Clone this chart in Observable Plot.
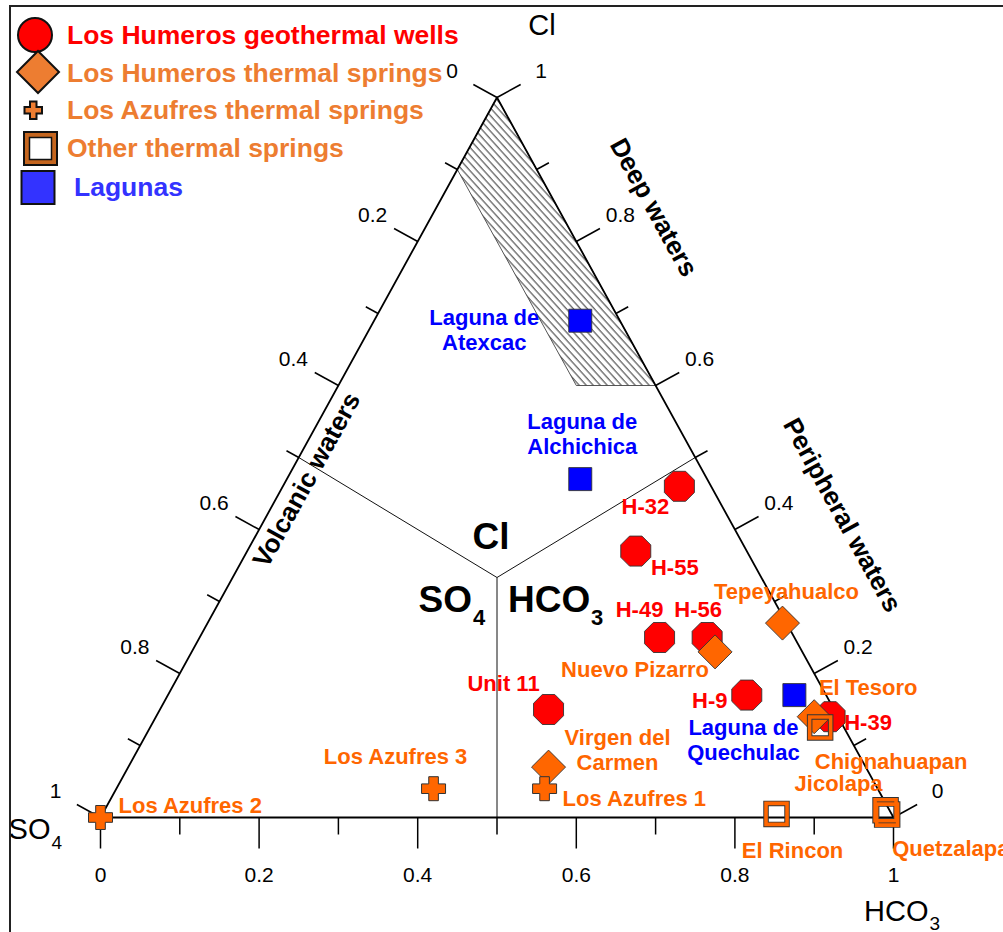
<!DOCTYPE html>
<html><head><meta charset="utf-8">
<script src="https://cdn.jsdelivr.net/npm/d3@7"></script>
<script src="https://cdn.jsdelivr.net/npm/@observablehq/plot@0.6"></script>
<style>
html,body{margin:0;padding:0;background:#fff;}
#wrap{position:relative;width:1003px;height:932px;overflow:hidden;font-family:"Liberation Sans",Arial,Helvetica,sans-serif;}
#chart{position:absolute;left:0;top:0;}
#legend{position:absolute;left:0;top:0;}
#frame{position:absolute;left:9px;top:5px;width:1100px;height:1000px;border-left:2px solid #222;border-top:2px solid #222;pointer-events:none;}
</style></head>
<body><div id="wrap"><div id="chart"></div><div id="legend"></div><div id="frame"></div></div>
<script>
// ---------------- DATA (fractions of Cl, SO4, HCO3) ----------------
const wellNames = ["H-32", "H-55", "H-49", "H-56", "H-9", "Unit 11", "H-39"];
const wellCl    = [0.46, 0.37, 0.25, 0.25, 0.17, 0.15, 0.14];
const wellSO4   = [0.04, 0.14, 0.17, 0.11, 0.10, 0.36, 0.01];
const wellHCO3  = [0.50, 0.49, 0.58, 0.64, 0.73, 0.49, 0.85];

const springNames = ["Tepeyahualco", "Nuevo Pizarro", "El Tesoro", "Virgen del\nCarmen"];
const springCl    = [0.27, 0.23, 0.14, 0.07];
const springSO4   = [0.005, 0.11, 0.03, 0.40];
const springHCO3  = [0.725, 0.66, 0.83, 0.53];

const azufresNames = ["Los Azufres 1", "Los Azufres 2", "Los Azufres 3"];
const azufresCl    = [0.04, 0.00, 0.04];
const azufresSO4   = [0.42, 1.00, 0.56];
const azufresHCO3  = [0.54, 0.00, 0.40];

const otherNames = ["Chignahuapan", "El Rincon", "Jicolapa", "Quetzalapa"];
const otherCl    = [0.125, 0.005, 0.010, 0.004];
const otherSO4   = [0.030, 0.145, 0.005, 0.006];
const otherHCO3  = [0.845, 0.850, 0.985, 0.990];

const lagunaNames = ["Laguna de\nAtexcac", "Laguna de\nAlchichica", "Laguna de\nQuechulac"];
const lagunaCl    = [0.69, 0.47, 0.17];
const lagunaSO4   = [0.05, 0.16, 0.04];
const lagunaHCO3  = [0.26, 0.37, 0.79];

// "Deep waters" field (Cl, SO4, HCO3 vertices)
const deepCl   = [1.0, 0.9, 0.6, 0.6, 1.0];
const deepSO4  = [0.0, 0.1, 0.1, 0.0, 0.0];
const deepHCO3 = [0.0, 0.0, 0.3, 0.4, 0.0];

const majorTicks = [0, 0.2, 0.4, 0.6, 0.8, 1];
const minorTicks = [0.1, 0.3, 0.5, 0.7, 0.9];
const tickLabels = ["0", "0.2", "0.4", "0.6", "0.8", "1"];

const legendLabels = ["Los Humeros geothermal wells", "Los Humeros thermal springs", "Los Azufres thermal springs", "Other thermal springs", "Lagunas"];

// ---------------- LAYOUT ----------------
const FONT = '"Liberation Sans", Arial, Helvetica, sans-serif';
const W = 1003, H = 932;
const M = {left: 100, right: 110, top: 97, bottom: 115};
const PW = W - M.left - M.right, PH = H - M.top - M.bottom;
const RED = "#ff0000", ORANGE = "#ff6600", BLUE = "#0000ff", EDGE = "#333";
const LABEL_SIZE = 22;

function tern(cl, so4, hco3) { const s = cl + so4 + hco3; return {x: (hco3 + cl / 2) / s, y: cl / s}; }
function off(p, px, py) { return {x: p.x + px / PW, y: p.y - py / PH}; }
function series(names, cl, so4, hco3) { return names.map((n, i) => ({name: n, ...tern(cl[i], so4[i], hco3[i])})); }

const wells = series(wellNames, wellCl, wellSO4, wellHCO3);
const springs = series(springNames, springCl, springSO4, springHCO3);
const azufres = series(azufresNames, azufresCl, azufresSO4, azufresHCO3);
const others = series(otherNames, otherCl, otherSO4, otherHCO3);
const lagunas = series(lagunaNames, lagunaCl, lagunaSO4, lagunaHCO3);
const deep = deepCl.map((c, i) => tern(c, deepSO4[i], deepHCO3[i]));

const triangle = [tern(1,0,0), tern(0,1,0), tern(0,0,1), tern(1,0,0)];
const centroid = tern(1,1,1);
const fieldLines = [tern(1,1,0), tern(1,0,1), tern(0,1,1)].map(p => ({p: centroid, q: p}));

// label offsets (pixels) per name: [dx, dy, anchor]
const labelPlace = {
  "H-32": [-34, 20, "middle"], "H-55": [39, 16, "middle"], "H-49": [-20, -29, "middle"], "H-56": [-9, -29, "middle"],
  "H-9": [-37, 5, "middle"], "Unit 11": [-45, -27, "middle"], "H-39": [38, 5, "middle"],
  "Tepeyahualco": [4, -32, "middle"], "Nuevo Pizarro": [-80, 17, "middle"], "El Tesoro": [54, -30, "middle"],
  "Virgen del Carmen": [69, -18, "middle"],
  "Los Azufres 1": [18, 9, "start"], "Los Azufres 2": [18, -13, "start"], "Los Azufres 3": [-38, -33, "middle"],
  "Chignahuapan": [71, 33, "middle"], "El Rincon": [16, 36, "middle"], "Jicolapa": [-47, -27, "middle"], "Quetzalapa": [5, 33, "start"],
  "Laguna de Atexcac": [-96, 9, "middle"], "Laguna de Alchichica": [2, -46, "middle"], "Laguna de Quechulac": [-51, 44, "middle"]
};

// ---------------- SYMBOLS ----------------
const octagon = {draw(ctx, size) { const a = Math.sqrt(size / Math.PI), R = a / Math.cos(Math.PI / 8);
  for (let i = 0; i < 8; i++) { const t = Math.PI / 8 + i * Math.PI / 4; const px = R * Math.cos(t), py = R * Math.sin(t); if (i) ctx.lineTo(px, py); else ctx.moveTo(px, py); } ctx.closePath(); }};
const rhombus = {draw(ctx, size) { const r = Math.sqrt(size / Math.PI); ctx.moveTo(0, -r); ctx.lineTo(r, 0); ctx.lineTo(0, r); ctx.lineTo(-r, 0); ctx.closePath(); }};
const plus = {draw(ctx, size) { const r = Math.sqrt(size / Math.PI), w = r * 0.4;
  const pts = [[-w,-r],[w,-r],[w,-w],[r,-w],[r,w],[w,w],[w,r],[-w,r],[-w,w],[-r,w],[-r,-w],[-w,-w]];
  pts.forEach((p, i) => i ? ctx.lineTo(p[0], p[1]) : ctx.moveTo(p[0], p[1])); ctx.closePath(); }};
const box = {draw(ctx, size) { const r = Math.sqrt(size / Math.PI); ctx.moveTo(-r, -r); ctx.lineTo(r, -r); ctx.lineTo(r, r); ctx.lineTo(-r, r); ctx.closePath(); }};

// ---------------- TICKS ----------------
const lenL = Math.hypot(PH, PW / 2);
const edges = [
  {name: "bottom", pos: v => tern(0, 1 - v, v), n: [0, 1], major: 31, minor: 17, ldx: 0, ldy: 58},
  {name: "left", pos: v => tern(1 - v, v, 0), n: [-PH / lenL, -PW / 2 / lenL], major: 27, minor: 14, ldx: -45, ldy: -26},
  {name: "right", pos: v => tern(v, 0, 1 - v), n: [PH / lenL, -PW / 2 / lenL], major: 27, minor: 14, ldx: 44, ldy: -26}
];
const ticks = [];
for (const e of edges) {
  for (const v of majorTicks) { const p = e.pos(v); ticks.push({p, q: off(p, e.n[0] * e.major, e.n[1] * e.major)}); }
  for (const v of minorTicks) { const p = e.pos(v); ticks.push({p, q: off(p, e.n[0] * e.minor, e.n[1] * e.minor)}); }
}

const marks = [];
// hatched deep-water field
marks.push(Plot.line(deep, {x: "x", y: "y", fill: "url(#hatch)", stroke: "#444", strokeWidth: 0.9}));
// field lines
marks.push(Plot.link(fieldLines, {x1: d => d.p.x, y1: d => d.p.y, x2: d => d.q.x, y2: d => d.q.y, stroke: "#111", strokeWidth: 1}));
// triangle
marks.push(Plot.line(triangle, {x: "x", y: "y", stroke: "#000", strokeWidth: 1.8}));
// ticks
marks.push(Plot.link(ticks, {x1: d => d.p.x, y1: d => d.p.y, x2: d => d.q.x, y2: d => d.q.y, stroke: "#000", strokeWidth: 1.5}));
// tick labels
for (const e of edges) {
  const lab = majorTicks.map((v, i) => ({...e.pos(v), t: tickLabels[i]}));
  marks.push(Plot.text(lab, {x: "x", y: "y", text: "t", dx: e.ldx, dy: e.ldy, fontSize: 21, fill: "#000", fontFamily: FONT}));
}
// corner labels
const apex = [tern(1,0,0)], cSO4 = [tern(0,1,0)], cHCO3 = [tern(0,0,1)], cen = [centroid];
const txt = (data, text, o) => Plot.text(data, {x: "x", y: "y", text: () => text, fontFamily: FONT, fill: "#000", ...o});
marks.push(txt(apex, "Cl", {dx: 45, dy: -72, fontSize: 29}));
marks.push(txt(cSO4, "SO", {dx: -50, dy: 12, fontSize: 29, textAnchor: "end"}));
marks.push(txt(cSO4, "4", {dx: -49, dy: 25, fontSize: 19, textAnchor: "start"}));
marks.push(txt(cHCO3, "HCO", {dx: 35, dy: 94, fontSize: 29, textAnchor: "end"}));
marks.push(txt(cHCO3, "3", {dx: 36, dy: 106, fontSize: 19, textAnchor: "start"}));
// field labels
marks.push(txt(cen, "Cl", {dx: -6, dy: -40, fontSize: 37, fontWeight: "bold"}));
marks.push(txt(cen, "SO", {dx: -25, dy: 23, fontSize: 37, fontWeight: "bold", textAnchor: "end"}));
marks.push(txt(cen, "4", {dx: -24, dy: 40, fontSize: 22, fontWeight: "bold", textAnchor: "start"}));
marks.push(txt(cen, "HCO", {dx: 11, dy: 23, fontSize: 37, fontWeight: "bold", textAnchor: "start"}));
marks.push(txt(cen, "3", {dx: 94, dy: 40, fontSize: 22, fontWeight: "bold", textAnchor: "start"}));
// water-type labels along edges
const ang = Math.atan2(PH, PW / 2) * 180 / Math.PI;
marks.push(txt([tern(0.85, 0, 0.15)], "Deep waters", {dx: 97, dy: 2, fontSize: 26, fontWeight: "bold", rotate: ang}));
marks.push(txt([tern(0.42, 0, 0.58)], "Peripheral waters", {dx: 115, dy: 0, fontSize: 26, fontWeight: "bold", rotate: ang}));
marks.push(txt([tern(0.47, 0.53, 0)], "Volcanic waters", {dx: 20, dy: 1, fontSize: 26, fontWeight: "bold", rotate: -ang}));

// points
marks.push(Plot.dot(wells, {x: "x", y: "y", symbol: octagon, r: 15, fill: RED, stroke: EDGE, strokeWidth: 0.9}));
marks.push(Plot.dot(springs, {x: "x", y: "y", symbol: rhombus, r: 17, fill: ORANGE, stroke: EDGE, strokeWidth: 0.9}));
marks.push(Plot.dot(azufres, {x: "x", y: "y", symbol: plus, r: 12, fill: ORANGE, stroke: EDGE, strokeWidth: 1}));
marks.push(Plot.dot(others, {x: "x", y: "y", symbol: box, r: 10.5, fill: "none", stroke: EDGE, strokeWidth: 5.5}));
marks.push(Plot.dot(others, {x: "x", y: "y", symbol: box, r: 10.5, fill: "none", stroke: ORANGE, strokeWidth: 3.6}));
marks.push(Plot.dot(lagunas, {x: "x", y: "y", symbol: box, r: 11.5, fill: BLUE, stroke: EDGE, strokeWidth: 0.9}));

// point labels
const groups = [[wells, RED], [springs, ORANGE], [azufres, ORANGE], [others, ORANGE], [lagunas, BLUE]];
for (const [pts, color] of groups) {
  for (const d of pts) {
    const pl = labelPlace[d.name.replace("\n", " ")];
    marks.push(Plot.text([d], {x: "x", y: "y", text: "name", dx: pl[0], dy: pl[1], textAnchor: pl[2],
      fontSize: LABEL_SIZE, fontWeight: "bold", fill: color, fontFamily: FONT, lineHeight: 1.15}));
  }
}

const chart = Plot.plot({
  width: W, height: H,
  marginLeft: M.left, marginRight: M.right, marginTop: M.top, marginBottom: M.bottom,
  x: {domain: [0, 1], axis: null}, y: {domain: [0, 1], axis: null},
  style: {fontFamily: FONT, background: "white", overflow: "visible"},
  marks
});
const NS = "http://www.w3.org/2000/svg";
const defs = document.createElementNS(NS, "defs");
defs.innerHTML = '<pattern id="hatch" patternUnits="userSpaceOnUse" width="5.2" height="5.2" patternTransform="rotate(-42)"><line x1="1" y1="-1" x2="1" y2="7" stroke="#333" stroke-width="1"/></pattern>';
chart.insertBefore(defs, chart.firstChild);
document.getElementById("chart").appendChild(chart);

// ---------------- LEGEND ----------------
const lc = ["#ff0000", "#ed7d31", "#ed7d31", "#ed7d31", "#3333ff"];
const ly = [35, 73, 110, 148, 187];
const lx = [67, 67, 67, 67, 74];
let s = `<svg xmlns="${NS}" width="470" height="210" style="font-family:${FONT.replace(/"/g, "'")}">`;
s += `<circle cx="35" cy="35" r="17" fill="#ff0000" stroke="#111" stroke-width="2"/>`;
s += `<polygon points="38,51 59,72 38,93 17,72" fill="#ed7d31" stroke="#111" stroke-width="2"/>`;
s += `<path d="M30,101.5 h6.5 v5.5 h5.5 v6.5 h-5.5 v5.5 h-6.5 v-5.5 h-5.5 v-6.5 h5.5 z" fill="#ed7d31" stroke="#111" stroke-width="2"/>`;
s += `<rect x="24" y="132" width="33" height="33" fill="#c5661f" stroke="#111" stroke-width="2"/>`;
s += `<rect x="29.5" y="137.5" width="22" height="22" fill="#fff" stroke="#111" stroke-width="1.5"/>`;
s += `<rect x="21.5" y="171" width="33" height="33" fill="#3333ff" stroke="#111" stroke-width="2"/>`;
legendLabels.forEach((t, i) => {
  s += `<text x="${lx[i]}" y="${ly[i] + 9}" font-size="26.5" font-weight="bold" fill="${lc[i]}">${t}</text>`;
});
s += `</svg>`;
document.getElementById("legend").innerHTML = s;
</script></body></html>
